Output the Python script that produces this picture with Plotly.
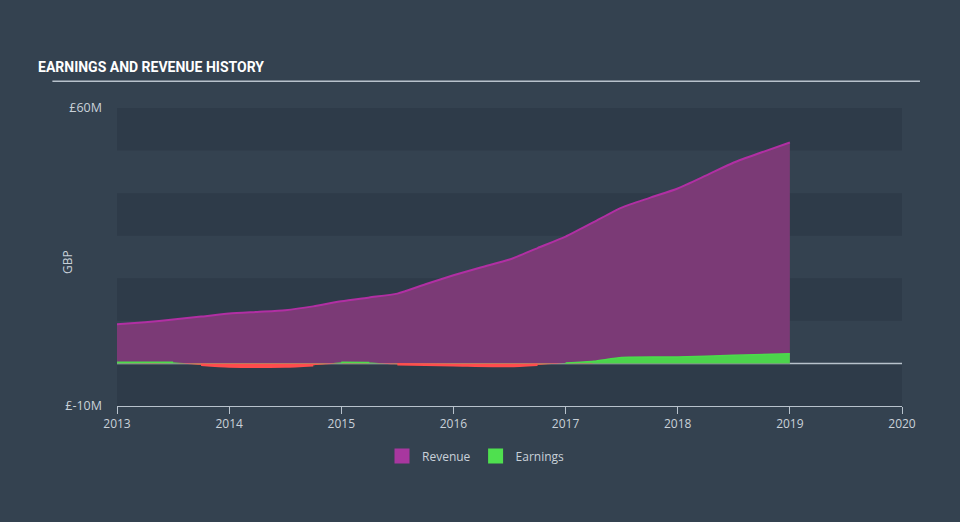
import plotly.graph_objects as go
import numpy as np

# Revenue (GBP millions)
rev_x = [2013.0, 2013.25, 2013.5, 2013.75, 2014.0, 2014.25, 2014.5, 2014.75, 2015.0, 2015.25,
         2015.5, 2015.75, 2016.0, 2016.25, 2016.5, 2016.75, 2017.0, 2017.25, 2017.5, 2017.75,
         2018.0, 2018.25, 2018.5, 2018.75, 2019.0]
rev_y = [9.2, 9.7, 10.3, 11.0, 11.7, 12.1, 12.5, 13.4, 14.6, 15.5,
         16.4, 18.6, 20.7, 22.6, 24.4, 27.1, 29.8, 33.2, 36.6, 38.9,
         41.1, 44.1, 47.2, 49.6, 51.9]

# Earnings (GBP millions)
earn_x = [2013.0, 2013.5, 2013.75, 2014.0, 2014.5, 2014.75, 2015.0, 2015.25, 2015.5,
          2016.0, 2016.5, 2016.75, 2017.0, 2017.25, 2017.5, 2018.0, 2018.5, 2019.0]
earn_y = [0.3, 0.3, -0.3, -0.7, -0.7, -0.4, 0.3, 0.2, -0.2,
          -0.4, -0.6, -0.3, 0.1, 0.5, 1.4, 1.5, 1.9, 2.3]

x_ticks = [2013, 2014, 2015, 2016, 2017, 2018, 2019, 2020]
y_ticks = [60, -10]
y_tick_labels = ["£60M", "£-10M"]
bands = [(50, 60), (30, 40), (10, 20), (-10, 0)]

PAPER = "#344250"
BAND = "#2e3b49"
TXT = "#c9d1d9"
REV_LEG = "#a8379f"
EARN_LEG = "#4fe04f"

fig = go.Figure()

fig.add_trace(go.Scatter(
    x=rev_x, y=rev_y, name="Revenue", mode="lines", showlegend=False,
    line=dict(color="#b12fa3", width=2, shape="spline", smoothing=0.6),
    fill="tozeroy", fillcolor="#7b3a76",
))

# earnings: green fill, negative part overdrawn in red
fig.add_trace(go.Scatter(
    x=earn_x, y=earn_y, name="Earnings", mode="lines", showlegend=False,
    line=dict(color="#4cd44c", width=0, shape="spline", smoothing=0.6),
    fill="tozeroy", fillcolor="#4cd44c",
))

earn_arr = np.array(earn_y)
neg = np.minimum(earn_arr, 0)
fig.add_trace(go.Scatter(
    x=earn_x, y=neg, name="Loss", mode="lines", showlegend=False,
    line=dict(color="#ff4d4d", width=0, shape="spline", smoothing=0.6),
    fill="tozeroy", fillcolor="#ff4d4d",
))
# red edge on the loss-making stretches only
neg_line = [v if v < 0 else None for v in earn_y]
fig.add_trace(go.Scatter(
    x=earn_x, y=neg_line, name="Loss edge", mode="lines", showlegend=False,
    connectgaps=False, line=dict(color="#ff4d4d", width=2.5, shape="spline", smoothing=0.6),
))
pos_line = [v if v > 0 else None for v in earn_y]
fig.add_trace(go.Scatter(
    x=earn_x, y=pos_line, name="Profit edge", mode="lines", showlegend=False,
    connectgaps=False, line=dict(color="#4cdb4c", width=1.5, shape="spline", smoothing=0.6),
))

# legend-only entries with square swatches
fig.add_trace(go.Scatter(x=[None], y=[None], name="Revenue", mode="markers",
                         marker=dict(symbol="square", size=15, color=REV_LEG)))
fig.add_trace(go.Scatter(x=[None], y=[None], name="Earnings", mode="markers",
                         marker=dict(symbol="square", size=15, color=EARN_LEG)))

shapes = []
for lo, hi in bands:
    shapes.append(dict(type="rect", xref="x", yref="y", x0=2013, x1=2020, y0=lo, y1=hi,
                       fillcolor=BAND, line=dict(width=0), layer="below"))
shapes.append(dict(type="line", xref="x", yref="y", x0=2013, x1=2020, y0=0, y1=0,
                   line=dict(color="#b8c2cc", width=1.5), layer="below"))
shapes.append(dict(type="line", xref="paper", yref="paper", x0=-0.0823, x1=1.0229,
                   y0=1.0895, y1=1.0895, line=dict(color="#b8c2cc", width=1.5)))
fig.update_layout(shapes=shapes)

fig.add_annotation(text="GBP", xref="paper", yref="paper", x=(67 - 117) / 785,
                   y=(406 - 262) / 298, showarrow=False, textangle=-90,
                   xanchor="center", yanchor="middle", font=dict(color=TXT, size=12))

fig.update_layout(
    width=960, height=522,
    paper_bgcolor=PAPER, plot_bgcolor=PAPER,
    margin=dict(l=117, r=58, t=108, b=116, autoexpand=False),
    font=dict(family="Open Sans", color=TXT, size=12),
    title=dict(text="<b>EARNINGS AND REVENUE HISTORY</b>", x=38/960, xanchor="left",
               y=1-67/522, yanchor="middle",
               font=dict(family="Roboto", size=14, color="#ffffff", weight="bold")),
    xaxis=dict(range=[2013, 2020], tickvals=x_ticks, ticktext=[str(t) for t in x_ticks],
               showgrid=False, zeroline=False, showline=True, linecolor="#b8c2cc", linewidth=1,
               ticks="outside", ticklen=7, tickcolor="#b8c2cc", tickfont=dict(color=TXT, size=12)),
    yaxis=dict(range=[-10, 60], tickvals=y_ticks, ticktext=y_tick_labels, showgrid=False,
               zeroline=False, showline=False, ticks="", ticklabelstandoff=14,
               tickfont=dict(color=TXT, size=12.5)),
    legend=dict(orientation="h", x=(476 - 117) / 785, xanchor="center",
                y=-0.168, yanchor="middle",
                font=dict(color=TXT, size=12), itemwidth=30),
    showlegend=True,
)

fig.write_html("out.html")
